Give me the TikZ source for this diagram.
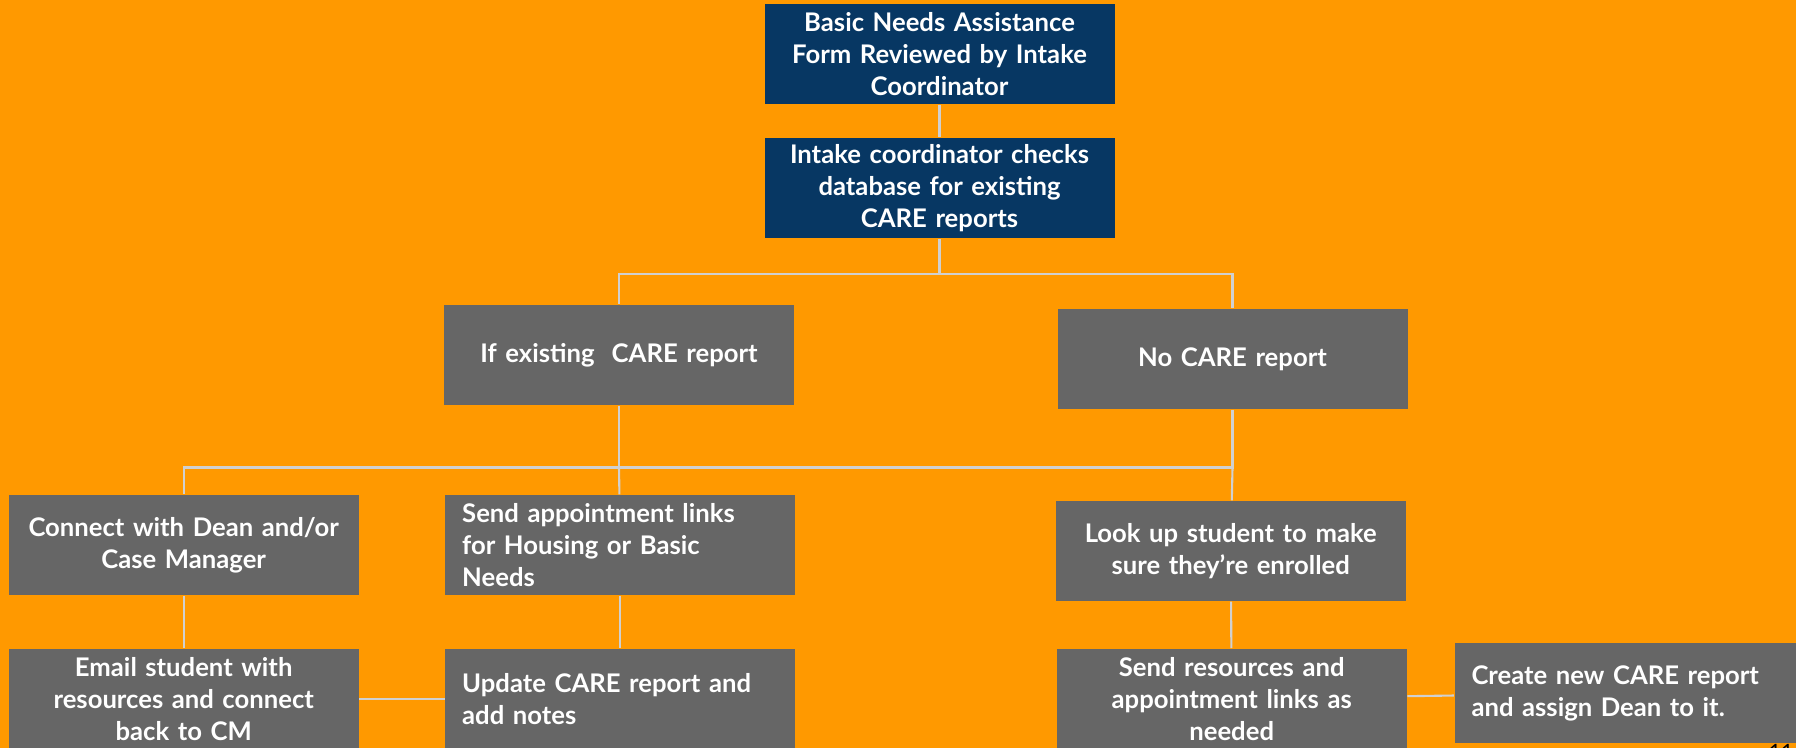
\documentclass[tikz,border=0pt]{standalone}
\usepackage{fontspec}
\setmainfont{Lato}
\usetikzlibrary{positioning, calc}
\definecolor{slideorange}{HTML}{FF9900}
\definecolor{darknavy}{HTML}{073763}
\definecolor{boxgray}{HTML}{666666}
\definecolor{linkgray}{HTML}{D0D0D0}

\begin{document}
\begin{tikzpicture}[
		stage/.style={fill=boxgray, text=white, font=\bfseries\fontsize{7.3}{9.1}\selectfont, minimum width=3.5cm, minimum height=1cm, text width=3.36cm, inner xsep=0.07cm, inner ysep=0pt, align=center},
		navystage/.style={stage, fill=darknavy},
		leftstage/.style={stage, text width=3.16cm, inner xsep=0.17cm, align=left},
		link/.style={draw=linkgray, line width=0.6pt}
	]
			\useasboundingbox (0,0) rectangle (17.96,-7.48);
			\fill[slideorange] (0,0) rectangle (17.96,-7.48);
			
			\node[navystage] (review) at (9.395,-0.542) {Basic Needs Assistance\\Form Reviewed by Intake\\Coordinator};
			\node[navystage] (check) at (9.395,-1.882) {Intake coordinator checks\\database for existing\\CARE reports};
			
			\node[stage] (existing) at (6.19,-3.552) {If existing~~CARE report};
			\node[stage] (nocare) at (12.325,-3.59) {No CARE report};
			
			\node[stage] (connect) at (1.837,-5.45) {Connect with Dean and/or\\Case Manager};
			\node[leftstage] (sendlinks) at (6.202,-5.45) {Send appointment links\\for Housing or Basic\\Needs};
			\node[stage] (lookup) at (12.307,-5.51) {Look up student to make\\sure they’re enrolled};
			
			\node[stage] (email) at (1.837,-6.987) {Email student with\\resources and connect\\back to CM};
			\node[leftstage] (update) at (6.202,-6.987) {Update CARE report and\\add notes};
			\node[stage] (sendres) at (12.317,-6.987) {Send resources and\\appointment links as\\needed};
			\node[leftstage] (newcare) at (16.295,-6.93) {Create new CARE report\\and assign Dean to it.};
			
			\node[anchor=north, inner sep=0pt, font=\fontsize{6}{6}\selectfont] (pagenum) at (17.81,-7.44) {11};
			
			% connectors
			\coordinate (split) at (9.395,-2.74);
			\coordinate (fork) at (6.19,-4.675);
			\draw[link] (review) -- (check);
			\draw[link] (check) -- (split) -| (existing);
			\draw[link] (split) -| (nocare);
			\draw[link] (existing) -- (fork);
			\draw[link] (nocare) |- (fork);
			\draw[link] (fork) -| (connect);
			\draw[link] (fork) -- (sendlinks);
			\draw[link] (nocare.south |- fork) -- (lookup);
			\draw[link] (connect) -- (email);
			\draw[link] (sendlinks) -- (update);
			\draw[link] (lookup) -- (sendres);
			\draw[link] (email) -- (update);
			\draw[link] (sendres) -- (newcare);
		\end{tikzpicture}
\end{document}
